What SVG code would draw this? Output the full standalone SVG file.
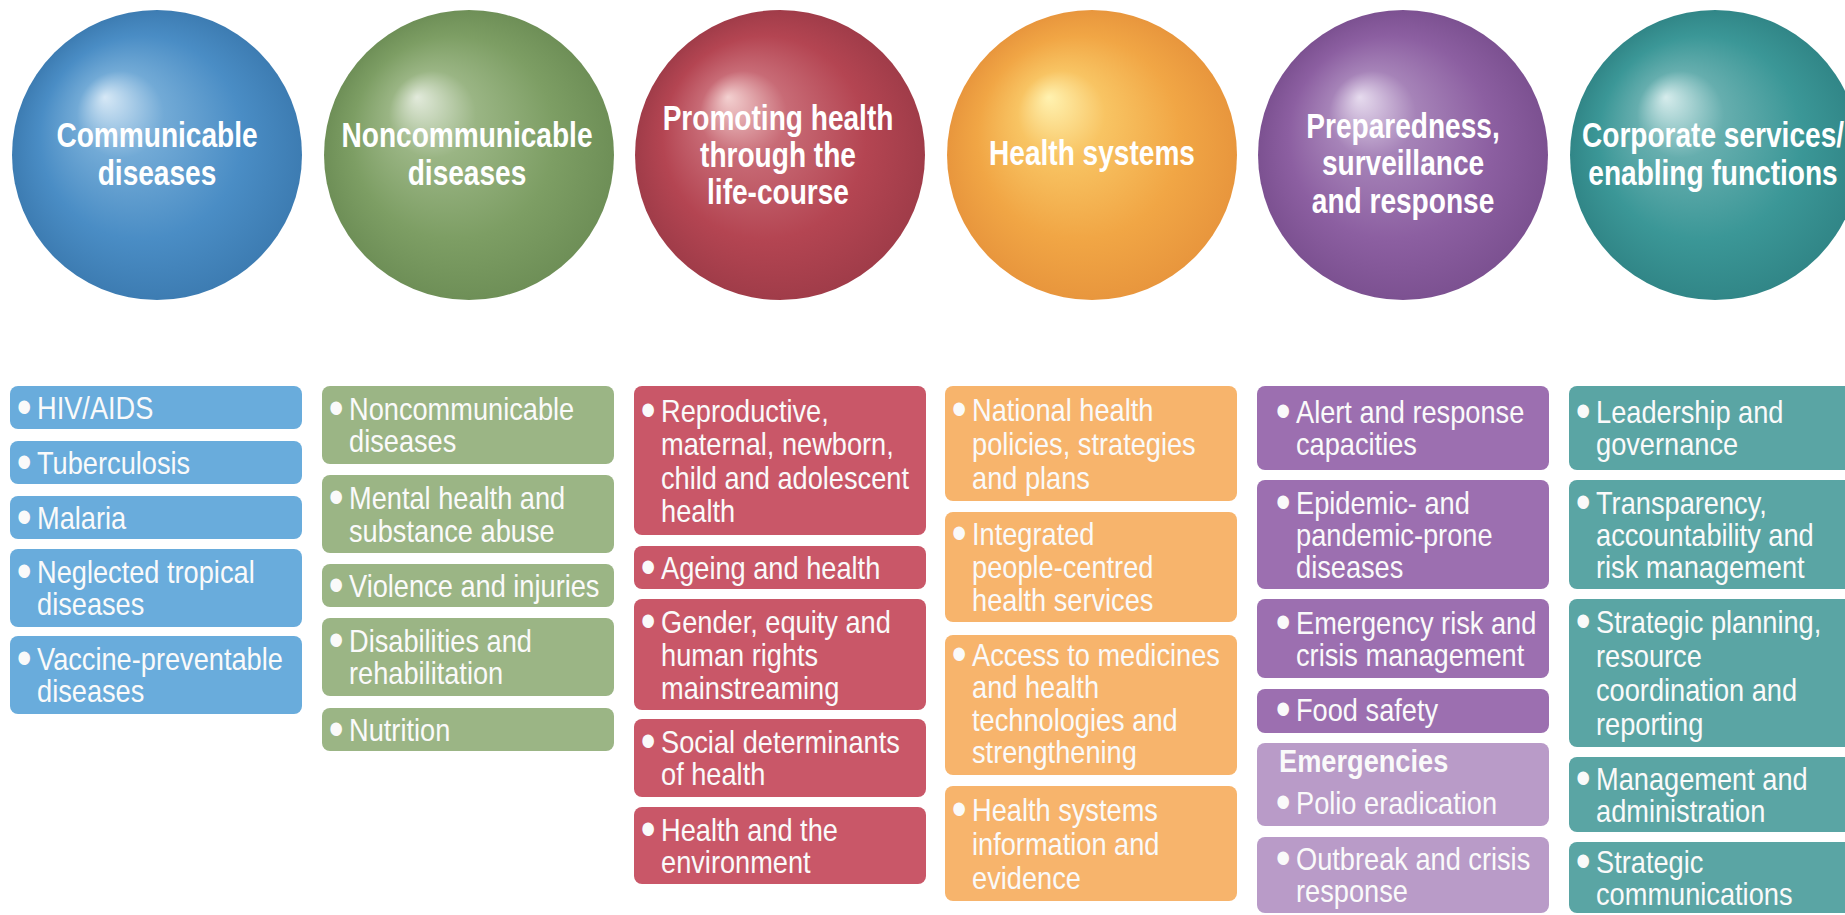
<svg xmlns="http://www.w3.org/2000/svg" width="1845" height="915" viewBox="0 0 1845 915">
  <defs>
    <style>
      .ttl { font-family: "Liberation Sans", Arial, sans-serif; font-weight: bold; font-size: 36px; fill: #ffffff; text-anchor: middle; }
      .it { font-family: "Liberation Sans", Arial, sans-serif; font-size: 32px; fill: #fafafa; }
      .hd { font-family: "Liberation Sans", Arial, sans-serif; font-size: 32px; font-weight: bold; fill: #fafafa; }
      .dot { font-family: "Liberation Sans", Arial, sans-serif; font-size: 50px; fill: #fafafa; }
      .b-blue { fill: #69acdc; }
      .b-green { fill: #9bb585; }
      .b-red { fill: #c95768; }
      .b-orange { fill: #f7b46c; }
      .b-purple { fill: #9c6fb0; }
      .b-lilac { fill: #b99bc8; }
      .b-teal { fill: #5aa5a4; }
    </style>
    <radialGradient id="g-blue" cx="0.5" cy="0.5" r="0.5" fx="0.32" fy="0.3">
      <stop offset="0" stop-color="#d6e8f6"/>
      <stop offset="0.3" stop-color="#72aad6"/>
      <stop offset="0.7" stop-color="#4a8dc5"/>
      <stop offset="1" stop-color="#3d7cb2"/>
    </radialGradient>
    <radialGradient id="g-green" cx="0.5" cy="0.5" r="0.5" fx="0.32" fy="0.3">
      <stop offset="0" stop-color="#e2eadb"/>
      <stop offset="0.3" stop-color="#9ab584"/>
      <stop offset="0.7" stop-color="#7d9e64"/>
      <stop offset="1" stop-color="#6e8f57"/>
    </radialGradient>
    <radialGradient id="g-red" cx="0.5" cy="0.5" r="0.5" fx="0.32" fy="0.3">
      <stop offset="0" stop-color="#f3d0d0"/>
      <stop offset="0.3" stop-color="#c86b76"/>
      <stop offset="0.7" stop-color="#b44552"/>
      <stop offset="1" stop-color="#a03c49"/>
    </radialGradient>
    <radialGradient id="g-orange" cx="0.5" cy="0.5" r="0.5" fx="0.35" fy="0.3">
      <stop offset="0" stop-color="#fff2b0"/>
      <stop offset="0.3" stop-color="#f8c463"/>
      <stop offset="0.7" stop-color="#f1a645"/>
      <stop offset="1" stop-color="#e8963d"/>
    </radialGradient>
    <radialGradient id="g-purple" cx="0.5" cy="0.5" r="0.5" fx="0.35" fy="0.3">
      <stop offset="0" stop-color="#e6dbee"/>
      <stop offset="0.3" stop-color="#a683b8"/>
      <stop offset="0.7" stop-color="#8c5fa1"/>
      <stop offset="1" stop-color="#7c5191"/>
    </radialGradient>
    <radialGradient id="g-teal" cx="0.5" cy="0.5" r="0.5" fx="0.33" fy="0.3">
      <stop offset="0" stop-color="#d6ecec"/>
      <stop offset="0.3" stop-color="#66aeae"/>
      <stop offset="0.7" stop-color="#3b9797"/>
      <stop offset="1" stop-color="#318687"/>
    </radialGradient>
  </defs>

  <rect width="1845" height="915" fill="#ffffff"/>

  <!-- Category spheres -->
  <g id="cat-communicable">
    <circle cx="157" cy="155" r="145" fill="url(#g-blue)"/>
    <g transform="translate(157 0) scale(0.78 1)">
      <text class="ttl" x="0" y="147">Communicable</text>
      <text class="ttl" x="0" y="185">diseases</text>
    </g>
  </g>
  <g id="cat-noncommunicable">
    <circle cx="469" cy="155" r="145" fill="url(#g-green)"/>
    <g transform="translate(467 0) scale(0.78 1)">
      <text class="ttl" x="0" y="147">Noncommunicable</text>
      <text class="ttl" x="0" y="185">diseases</text>
    </g>
  </g>
  <g id="cat-lifecourse">
    <circle cx="780" cy="155" r="145" fill="url(#g-red)"/>
    <g transform="translate(778 0) scale(0.78 1)">
      <text class="ttl" x="0" y="130">Promoting health</text>
      <text class="ttl" x="0" y="167">through the</text>
      <text class="ttl" x="0" y="204">life-course</text>
    </g>
  </g>
  <g id="cat-health-systems">
    <circle cx="1092" cy="155" r="145" fill="url(#g-orange)"/>
    <g transform="translate(1092 0) scale(0.78 1)">
      <text class="ttl" x="0" y="165">Health systems</text>
    </g>
  </g>
  <g id="cat-preparedness">
    <circle cx="1403" cy="155" r="145" fill="url(#g-purple)"/>
    <g transform="translate(1403 0) scale(0.78 1)">
      <text class="ttl" x="0" y="138">Preparedness,</text>
      <text class="ttl" x="0" y="175">surveillance</text>
      <text class="ttl" x="0" y="213">and response</text>
    </g>
  </g>
  <g id="cat-corporate">
    <circle cx="1715" cy="155" r="145" fill="url(#g-teal)"/>
    <g transform="translate(1713 0) scale(0.78 1)">
      <text class="ttl" x="0" y="147">Corporate services/</text>
      <text class="ttl" x="0" y="185">enabling functions</text>
    </g>
  </g>

  <!-- Programme areas: communicable diseases -->
  <g id="cd-hiv">
    <rect class="b-blue" x="10" y="386" width="292" height="43" rx="8"/>
    <g transform="translate(10 0) scale(0.85 1)">
      <text class="dot" x="8" y="424">•</text>
      <text class="it" x="31.8" y="419">HIV/AIDS</text>
    </g>
  </g>
  <g id="cd-tb">
    <rect class="b-blue" x="10" y="441" width="292" height="43" rx="8"/>
    <g transform="translate(10 0) scale(0.85 1)">
      <text class="dot" x="8" y="479">•</text>
      <text class="it" x="31.8" y="474">Tuberculosis</text>
    </g>
  </g>
  <g id="cd-malaria">
    <rect class="b-blue" x="10" y="496" width="292" height="43" rx="8"/>
    <g transform="translate(10 0) scale(0.85 1)">
      <text class="dot" x="8" y="534">•</text>
      <text class="it" x="31.8" y="529">Malaria</text>
    </g>
  </g>
  <g id="cd-ntd">
    <rect class="b-blue" x="10" y="549" width="292" height="78" rx="8"/>
    <g transform="translate(10 0) scale(0.85 1)">
      <text class="dot" x="8" y="588.5">•</text>
      <text class="it" x="31.8" y="583.5">Neglected tropical<tspan x="31.8" dy="32">diseases</tspan></text>
    </g>
  </g>
  <g id="cd-vpd">
    <rect class="b-blue" x="10" y="636" width="292" height="78" rx="8"/>
    <g transform="translate(10 0) scale(0.85 1)">
      <text class="dot" x="8" y="675.5">•</text>
      <text class="it" x="31.8" y="670.5">Vaccine-preventable<tspan x="31.8" dy="32">diseases</tspan></text>
    </g>
  </g>

  <!-- Programme areas: noncommunicable diseases -->
  <g id="ncd-ncd">
    <rect class="b-green" x="322" y="386" width="292" height="78" rx="8"/>
    <g transform="translate(322 0) scale(0.85 1)">
      <text class="dot" x="8" y="425.5">•</text>
      <text class="it" x="31.8" y="420.5">Noncommunicable<tspan x="31.8" dy="32">diseases</tspan></text>
    </g>
  </g>
  <g id="ncd-mental">
    <rect class="b-green" x="322" y="475" width="292" height="78" rx="8"/>
    <g transform="translate(322 0) scale(0.85 1)">
      <text class="dot" x="8" y="514.5">•</text>
      <text class="it" x="31.8" y="509.5">Mental health and<tspan x="31.8" dy="32">substance abuse</tspan></text>
    </g>
  </g>
  <g id="ncd-violence">
    <rect class="b-green" x="322" y="564" width="292" height="43" rx="8"/>
    <g transform="translate(322 0) scale(0.85 1)">
      <text class="dot" x="8" y="602">•</text>
      <text class="it" x="31.8" y="597">Violence and injuries</text>
    </g>
  </g>
  <g id="ncd-disabilities">
    <rect class="b-green" x="322" y="618" width="292" height="78" rx="8"/>
    <g transform="translate(322 0) scale(0.85 1)">
      <text class="dot" x="8" y="657.5">•</text>
      <text class="it" x="31.8" y="652.5">Disabilities and<tspan x="31.8" dy="32">rehabilitation</tspan></text>
    </g>
  </g>
  <g id="ncd-nutrition">
    <rect class="b-green" x="322" y="708" width="292" height="43" rx="8"/>
    <g transform="translate(322 0) scale(0.85 1)">
      <text class="dot" x="8" y="746">•</text>
      <text class="it" x="31.8" y="741">Nutrition</text>
    </g>
  </g>

  <!-- Programme areas: life-course -->
  <g id="lc-rmncah">
    <rect class="b-red" x="634" y="386" width="292" height="149" rx="8"/>
    <g transform="translate(634 0) scale(0.85 1)">
      <text class="dot" x="8" y="427">•</text>
      <text class="it" x="31.8" y="422">Reproductive,<tspan x="31.8" dy="33.5">maternal, newborn,</tspan><tspan x="31.8" dy="33.5">child and adolescent</tspan><tspan x="31.8" dy="33.5">health</tspan></text>
    </g>
  </g>
  <g id="lc-ageing">
    <rect class="b-red" x="634" y="546" width="292" height="43" rx="8"/>
    <g transform="translate(634 0) scale(0.85 1)">
      <text class="dot" x="8" y="584">•</text>
      <text class="it" x="31.8" y="579">Ageing and health</text>
    </g>
  </g>
  <g id="lc-gender">
    <rect class="b-red" x="634" y="599" width="292" height="111" rx="8"/>
    <g transform="translate(634 0) scale(0.85 1)">
      <text class="dot" x="8" y="638">•</text>
      <text class="it" x="31.8" y="633">Gender, equity and<tspan x="31.8" dy="33">human rights</tspan><tspan x="31.8" dy="33">mainstreaming</tspan></text>
    </g>
  </g>
  <g id="lc-social">
    <rect class="b-red" x="634" y="719" width="292" height="78" rx="8"/>
    <g transform="translate(634 0) scale(0.85 1)">
      <text class="dot" x="8" y="758.5">•</text>
      <text class="it" x="31.8" y="753.5">Social determinants<tspan x="31.8" dy="32">of health</tspan></text>
    </g>
  </g>
  <g id="lc-environment">
    <rect class="b-red" x="634" y="807" width="292" height="77" rx="8"/>
    <g transform="translate(634 0) scale(0.85 1)">
      <text class="dot" x="8" y="846">•</text>
      <text class="it" x="31.8" y="841">Health and the<tspan x="31.8" dy="32">environment</tspan></text>
    </g>
  </g>

  <!-- Programme areas: health systems -->
  <g id="hs-policies">
    <rect class="b-orange" x="945" y="386" width="292" height="115" rx="8"/>
    <g transform="translate(945 0) scale(0.85 1)">
      <text class="dot" x="8" y="426">•</text>
      <text class="it" x="31.8" y="421">National health<tspan x="31.8" dy="34">policies, strategies</tspan><tspan x="31.8" dy="34">and plans</tspan></text>
    </g>
  </g>
  <g id="hs-services">
    <rect class="b-orange" x="945" y="512" width="292" height="110" rx="8"/>
    <g transform="translate(945 0) scale(0.85 1)">
      <text class="dot" x="8" y="550.5">•</text>
      <text class="it" x="31.8" y="545.5">Integrated<tspan x="31.8" dy="33">people-centred</tspan><tspan x="31.8" dy="33">health services</tspan></text>
    </g>
  </g>
  <g id="hs-medicines">
    <rect class="b-orange" x="945" y="635" width="292" height="140" rx="8"/>
    <g transform="translate(945 0) scale(0.85 1)">
      <text class="dot" x="8" y="671">•</text>
      <text class="it" x="31.8" y="666">Access to medicines<tspan x="31.8" dy="32.5">and health</tspan><tspan x="31.8" dy="32.5">technologies and</tspan><tspan x="31.8" dy="32.5">strengthening</tspan></text>
    </g>
  </g>
  <g id="hs-information">
    <rect class="b-orange" x="945" y="786" width="292" height="115" rx="8"/>
    <g transform="translate(945 0) scale(0.85 1)">
      <text class="dot" x="8" y="826">•</text>
      <text class="it" x="31.8" y="821">Health systems<tspan x="31.8" dy="34">information and</tspan><tspan x="31.8" dy="34">evidence</tspan></text>
    </g>
  </g>

  <!-- Programme areas: preparedness, surveillance and response -->
  <g id="pr-alert">
    <rect class="b-purple" x="1257" y="386" width="292" height="84" rx="8"/>
    <g transform="translate(1257 0) scale(0.85 1)">
      <text class="dot" x="22" y="428">•</text>
      <text class="it" x="45.9" y="423">Alert and response<tspan x="45.9" dy="32">capacities</tspan></text>
    </g>
  </g>
  <g id="pr-epidemic">
    <rect class="b-purple" x="1257" y="480" width="292" height="109" rx="8"/>
    <g transform="translate(1257 0) scale(0.85 1)">
      <text class="dot" x="22" y="519">•</text>
      <text class="it" x="45.9" y="514">Epidemic- and<tspan x="45.9" dy="32">pandemic-prone</tspan><tspan x="45.9" dy="32">diseases</tspan></text>
    </g>
  </g>
  <g id="pr-risk">
    <rect class="b-purple" x="1257" y="599" width="292" height="79" rx="8"/>
    <g transform="translate(1257 0) scale(0.85 1)">
      <text class="dot" x="22" y="639">•</text>
      <text class="it" x="45.9" y="634">Emergency risk and<tspan x="45.9" dy="32">crisis management</tspan></text>
    </g>
  </g>
  <g id="pr-food">
    <rect class="b-purple" x="1257" y="689" width="292" height="44" rx="8"/>
    <g transform="translate(1257 0) scale(0.85 1)">
      <text class="dot" x="22" y="726">•</text>
      <text class="it" x="45.9" y="721">Food safety</text>
    </g>
  </g>
  <g id="em-polio">
    <rect class="b-lilac" x="1257" y="743" width="292" height="83" rx="8"/>
    <g transform="translate(1257 0) scale(0.85 1)">
      <text class="hd" x="25.9" y="772">Emergencies</text>
      <text class="dot" x="22" y="819">•</text>
      <text class="it" x="45.9" y="814">Polio eradication</text>
    </g>
  </g>
  <g id="em-outbreak">
    <rect class="b-lilac" x="1257" y="837" width="292" height="76" rx="8"/>
    <g transform="translate(1257 0) scale(0.85 1)">
      <text class="dot" x="22" y="875.5">•</text>
      <text class="it" x="45.9" y="870.5">Outbreak and crisis<tspan x="45.9" dy="32">response</tspan></text>
    </g>
  </g>

  <!-- Programme areas: corporate services / enabling functions -->
  <g id="cs-leadership">
    <rect class="b-teal" x="1569" y="386" width="292" height="84" rx="8"/>
    <g transform="translate(1569 0) scale(0.85 1)">
      <text class="dot" x="8" y="428">•</text>
      <text class="it" x="31.8" y="423">Leadership and<tspan x="31.8" dy="32">governance</tspan></text>
    </g>
  </g>
  <g id="cs-transparency">
    <rect class="b-teal" x="1569" y="480" width="292" height="109" rx="8"/>
    <g transform="translate(1569 0) scale(0.85 1)">
      <text class="dot" x="8" y="519">•</text>
      <text class="it" x="31.8" y="514">Transparency,<tspan x="31.8" dy="32">accountability and</tspan><tspan x="31.8" dy="32">risk management</tspan></text>
    </g>
  </g>
  <g id="cs-planning">
    <rect class="b-teal" x="1569" y="599" width="292" height="148" rx="8"/>
    <g transform="translate(1569 0) scale(0.85 1)">
      <text class="dot" x="8" y="638.5">•</text>
      <text class="it" x="31.8" y="633.5">Strategic planning,<tspan x="31.8" dy="34">resource</tspan><tspan x="31.8" dy="34">coordination and</tspan><tspan x="31.8" dy="34">reporting</tspan></text>
    </g>
  </g>
  <g id="cs-management">
    <rect class="b-teal" x="1569" y="757" width="292" height="75" rx="8"/>
    <g transform="translate(1569 0) scale(0.85 1)">
      <text class="dot" x="8" y="795">•</text>
      <text class="it" x="31.8" y="790">Management and<tspan x="31.8" dy="32">administration</tspan></text>
    </g>
  </g>
  <g id="cs-communications">
    <rect class="b-teal" x="1569" y="842" width="292" height="71" rx="8"/>
    <g transform="translate(1569 0) scale(0.85 1)">
      <text class="dot" x="8" y="878">•</text>
      <text class="it" x="31.8" y="873">Strategic<tspan x="31.8" dy="32">communications</tspan></text>
    </g>
  </g>
</svg>
